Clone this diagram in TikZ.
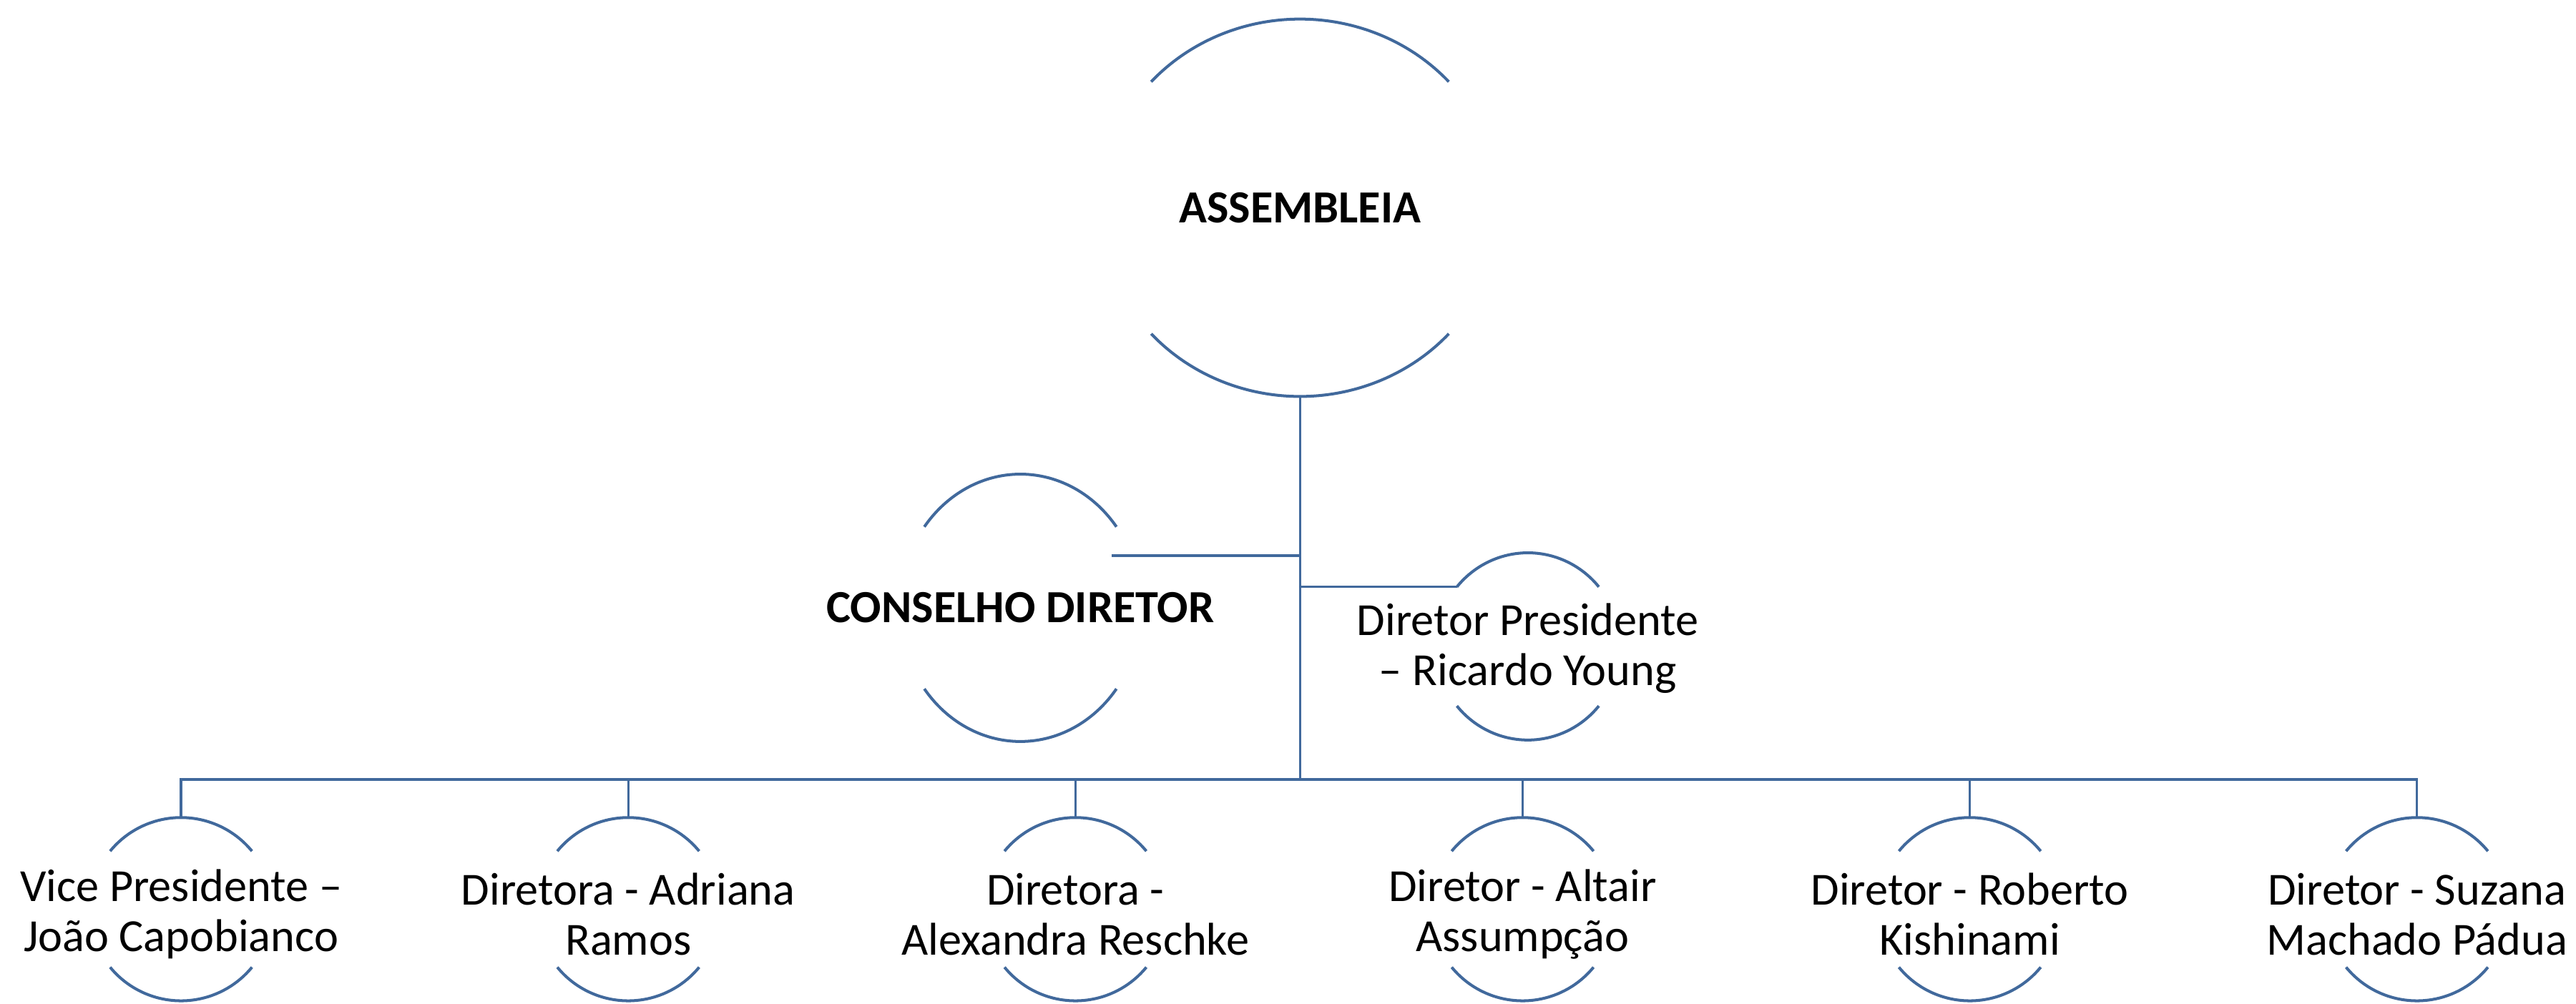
\documentclass[tikz,border=0pt]{standalone}
\usepackage{fontspec}
\setmainfont{Carlito}
\definecolor{lineblue}{RGB}{65,105,156}
\newcommand\ringarcs[4]{%
  \draw[rim] ([shift={(#4:#2pt and #3pt)}]#1.center)
    arc[start angle=#4, end angle={180-#4}, x radius=#2pt, y radius=#3pt];
  \draw[rim] ([shift={(180+#4:#2pt and #3pt)}]#1.center)
    arc[start angle={180+#4}, end angle={360-#4}, x radius=#2pt, y radius=#3pt];}
\begin{document}
\begin{tikzpicture}[x=1pt,y=1pt,
  ring/.style 2 args={rectangle,draw=none,inner sep=0pt,outer sep=0pt,minimum width=#1,minimum height=#2},
  rim/.style={draw=lineblue,line width=1.75pt},
  conn/.style={draw=lineblue,line width=1.4pt},
  lbl/.style={align=center,inner sep=0pt,font=\fontsize{28}{30.5}\selectfont},
  blbl/.style={lbl,font=\fontsize{28}{30.5}\selectfont\bfseries}]
\useasboundingbox (0,0) rectangle (1568,-611);

% node frames
\node[ring={243.4pt}{229.8pt}] (asm) at (791.3,-126.5) {};
\node[ring={147pt}{162.8pt}] (cd) at (621.1,-370.1) {};
\node[ring={112pt}{114pt}] (dp) at (930,-393.6) {};
\node[ring={111.6pt}{111.6pt}] (b1) at (110.2,-553.6) {};
\node[ring={111.6pt}{111.6pt}] (b2) at (382.4,-553.6) {};
\node[ring={111.6pt}{111.6pt}] (b3) at (654.6,-553.6) {};
\node[ring={111.6pt}{111.6pt}] (b4) at (926.8,-553.6) {};
\node[ring={111.6pt}{111.6pt}] (b5) at (1199,-553.6) {};
\node[ring={111.6pt}{111.6pt}] (b6) at (1471.2,-553.6) {};

% labels
\node[blbl] (asmt) at (asm.center) {ASSEMBLEIA};
\node[blbl] (cdt) at (cd.center) {CONSELHO DIRETOR};
\node[lbl] (dpt) at ([yshift=-1pt]dp.center) {Diretor Presidente\\– Ricardo Young};
\node[lbl] (b1t) at ([yshift=-3pt]b1.center) {Vice Presidente –\\João Capobianco};
\node[lbl] (b2t) at ([yshift=-3pt]b2.center) {Diretora - Adriana\\Ramos};
\node[lbl] (b3t) at ([yshift=-3pt]b3.center) {Diretora -\\Alexandra Reschke};
\node[lbl] (b4t) at ([yshift=-3pt]b4.center) {Diretor - Altair\\Assumpção};
\node[lbl] (b5t) at ([yshift=-3pt]b5.center) {Diretor - Roberto\\Kishinami};
\node[lbl] (b6t) at ([yshift=-3pt]b6.center) {Diretor - Suzana\\Machado Pádua};

% arcs
\ringarcs{asm}{121.7}{114.9}{41.9}
\ringarcs{cd}{73.5}{81.4}{37.3}
\ringarcs{dp}{56}{57}{39.5}
\foreach \n in {b1,b2,b3,b4,b5,b6}{\ringarcs{\n}{55.8}{55.8}{39.3}}

% connectors
\coordinate (busm) at (791.3,-474.6);
\coordinate (cdj) at (676.6,-338.3);
\coordinate (dpj) at ([shift={(140.5:56pt and 57pt)}]dp.center);
\draw[conn] (asm.south) -- (busm);
\draw[conn] (cdj) -- (cdj -| asm.south);
\draw[conn] (dpj) -- (dpj -| asm.south);
\draw[conn] (b1.north) -- (b1.north |- busm) -- (b6.north |- busm) -- (b6.north);
\foreach \n in {b2,b3,b4,b5}{
  \draw[conn] (\n.north) -- (\n.north |- busm);
}
\end{tikzpicture}
\end{document}
